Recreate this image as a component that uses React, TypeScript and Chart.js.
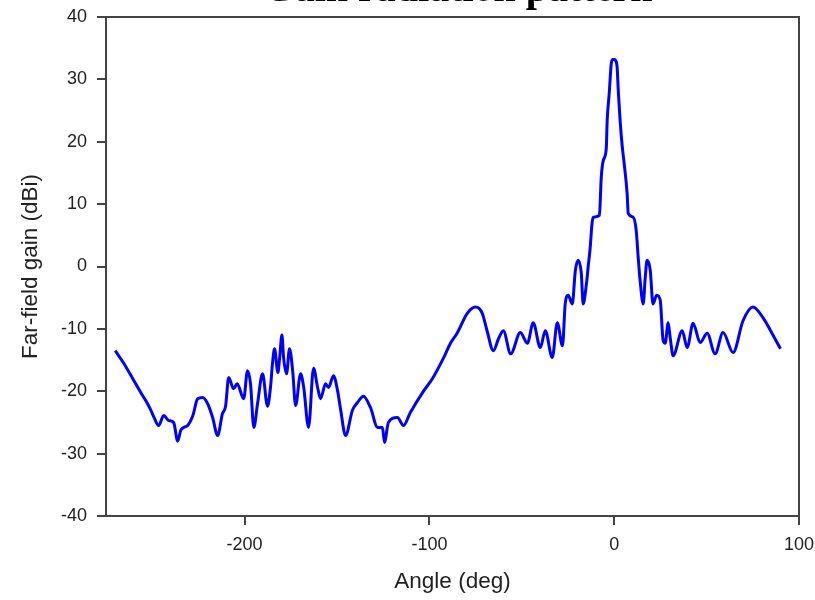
import React, { useEffect, useRef } from "react";
import { Chart, registerables } from "chart.js";

Chart.register(...registerables);

const chartTitle = "Gain radiation pattern";
const xAxisTitle = "Angle (deg)";
const yAxisTitle = "Far-field gain (dBi)";
const xTickValues = [-200, -100, 0, 100];

const angles = [
  -270, -265.4, -260.5, -256.2, -253.5, -250.8, -249, -246.5, -243.8, -241,
  -238.4, -236.2, -234.6, -233, -230.8, -228, -225.4, -222.7, -220, -217.3,
  -214.6, -212, -210.3, -208.6, -206, -204, -200.5, -198.4, -196.8, -195,
  -193, -190.3, -187.6, -186, -184.9, -183.8, -182, -181, -179.8, -178.9,
  -177.3, -175.7, -174, -172.4, -169.7, -168, -165.4, -162.7, -160.5, -158.9,
  -156.2, -154.6, -151.9, -149.7, -148, -145.4, -141.6, -138.9, -135.7, -131.9,
  -128, -125.4, -124.3, -122.2, -117.3, -114, -110.3, -103, -98.4, -92.4,
  -88.6, -85, -79.5, -75, -71.4, -68.8, -65.4, -62.5, -60, -56,
  -50.8, -47, -43.8, -40, -37.3, -33.5, -30.8, -28, -26.5, -24.9,
  -22.7, -21, -19.5, -17.8, -16.8, -15, -14, -13, -12, -11.3,
  -8, -7, -5.9, -4.3, -3.8, -2.7, -1.6, -0.8, 0, 0.8,
  1.6, 2.2, 3.2, 4.3, 5.4, 7, 7.6, 10.3, 11.9, 13,
  14, 15.7, 16.8, 17.8, 19.5, 21, 23, 24.9, 26.5, 27.6,
  29.2, 30.3, 31.9, 36.8, 39.5, 42.7, 46.5, 50.3, 54.6, 58.9,
  64.3, 69.7, 75.1, 80.5, 85, 90,
];

const gains = [
  -13.5, -15.5, -18, -20.2, -21.5, -23, -24.2, -25.5, -23.9, -24.7,
  -25, -28, -26.3, -25.8, -25.5, -23.9, -21.2, -21, -22, -24.2,
  -27.1, -23.6, -22.4, -17.8, -19.6, -18.8, -21.2, -16.7, -18.8, -25.8,
  -22, -17.2, -22.4, -19.4, -15.5, -13.2, -17, -14.5, -11, -14.6,
  -17.2, -13.2, -16.7, -22.3, -17.2, -19.4, -25.8, -16.3, -19.4, -21.2,
  -18.8, -19.4, -17.5, -19.9, -23, -27.1, -23, -21.8, -20.8, -22.6,
  -25.8, -25.8, -28.2, -25, -24.2, -25.5, -23.4, -19.9, -18, -14.7,
  -12.3, -10.7, -7.5, -6.5, -7.5, -10.3, -13.5, -11.5, -10.3, -14,
  -10.6, -12.3, -9, -13, -10.3, -14.6, -9, -12.7, -6, -4.6,
  -6, -0.6, 1, -1.1, -6, -2.7, 0.2, 3, 6.9, 7.9,
  8.2, 14.3, 17, 18.9, 23.4, 27.7, 32.5, 33.2, 33.2, 33,
  31.9, 28.2, 23.4, 19.4, 16.5, 11.7, 8.5, 7.9, 5.8, 1.4,
  -2.2, -6, -1.8, 1, -0.6, -6, -4.6, -5.4, -11.9, -12.3,
  -9, -11.4, -14.3, -10.3, -13, -9.1, -12.2, -10.7, -14, -10.6,
  -13.8, -8.7, -6.5, -8.2, -10.5, -13.2,
];

const frameAndTitle = {
  id: "frameAndTitle",
  afterDraw(chart: any) {
    const { ctx, chartArea } = chart;
    ctx.save();
    ctx.strokeStyle = "#444444";
    ctx.lineWidth = 2;
    ctx.beginPath();
    ctx.moveTo(chartArea.left, chartArea.top);
    ctx.lineTo(chartArea.right, chartArea.top);
    ctx.lineTo(chartArea.right, chartArea.bottom);
    ctx.stroke();
    ctx.fillStyle = "#000000";
    ctx.font = "bold 40px 'Liberation Serif'";
    ctx.textAlign = "center";
    ctx.textBaseline = "alphabetic";
    ctx.fillText(chartTitle, 458, 1);
    ctx.restore();
  },
};

export default function App() {
  const ref = useRef<HTMLCanvasElement | null>(null);

  useEffect(() => {
    if (!ref.current) return;
    const points = angles.map((a, i) => ({ x: a, y: gains[i] }));
    const chart = new Chart(ref.current, {
      type: "line",
      data: {
        datasets: [
          {
            data: points,
            borderColor: "#0000ff",
            borderWidth: 3,
            pointRadius: 0,
            fill: false,
            cubicInterpolationMode: "monotone",
          },
        ],
      },
      options: {
        animation: false,
        responsive: false,
        layout: { padding: { top: 17, right: 16, left: 0, bottom: 0 } },
        plugins: {
          legend: { display: false },
          tooltip: { enabled: false },
          title: { display: false },
        },
        scales: {
          x: {
            type: "linear",
            min: -275,
            max: 100,
            afterBuildTicks: (scale: any) => {
              scale.ticks = xTickValues.map((v) => ({ value: v }));
            },
            afterFit: (scale: any) => {
              scale.height = 84;
              scale.paddingLeft = 0;
              scale.paddingRight = 0;
            },
            grid: {
              drawOnChartArea: false,
              drawTicks: true,
              tickLength: 9,
              color: "#444444",
              lineWidth: 2,
            },
            border: { display: true, color: "#444444", width: 2 },
            ticks: {
              padding: 9,
              color: "#222222",
              font: { family: "'Liberation Sans'", size: 18 },
              maxRotation: 0,
            },
            title: {
              display: true,
              text: xAxisTitle,
              color: "#222222",
              font: { family: "'Liberation Sans'", size: 22.5 },
              padding: 4.5,
            },
          },
          y: {
            type: "linear",
            min: -40,
            max: 40,
            afterFit: (scale: any) => {
              scale.width = 106;
              scale.paddingTop = 0;
              scale.paddingBottom = 0;
            },
            grid: {
              drawOnChartArea: false,
              drawTicks: true,
              tickLength: 9,
              color: "#444444",
              lineWidth: 2,
            },
            border: { display: true, color: "#444444", width: 2 },
            ticks: {
              stepSize: 10,
              padding: 10,
              color: "#222222",
              font: { family: "'Liberation Sans'", size: 18 },
            },
            title: {
              display: true,
              text: yAxisTitle,
              color: "#222222",
              font: { family: "'Liberation Sans'", size: 22.5 },
              padding: 17.5,
            },
          },
        },
      },
      plugins: [frameAndTitle],
    });
    return () => chart.destroy();
  }, []);

  return (
    <div style={{ position: "absolute", left: 0, top: 0, width: 815, height: 600 }}>
      <canvas ref={ref} width={815} height={600} />
    </div>
  );
}
